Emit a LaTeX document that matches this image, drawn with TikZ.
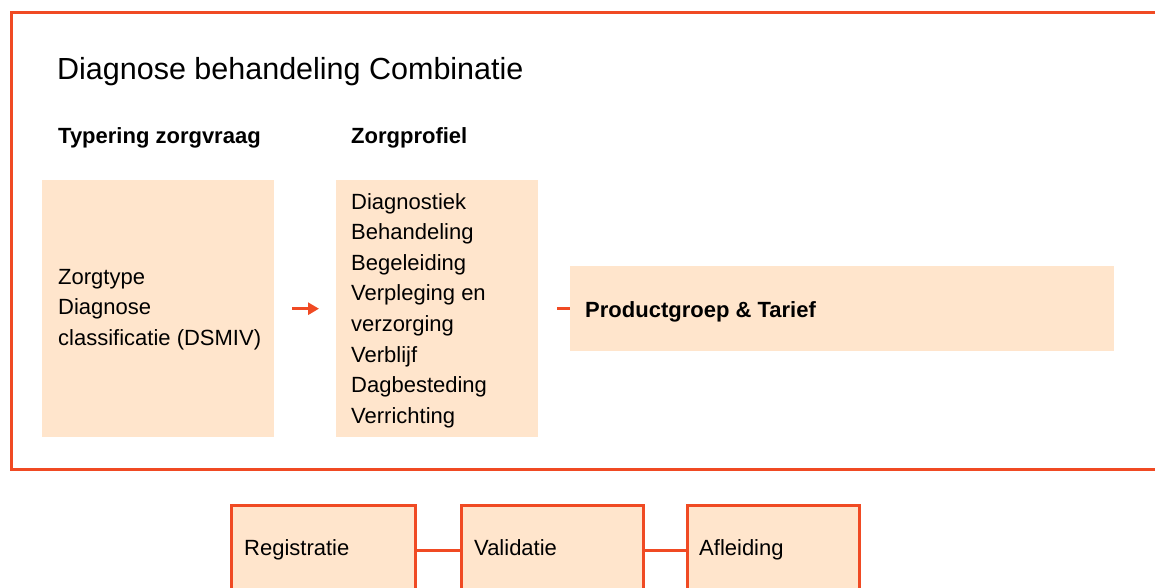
\documentclass[tikz,border=0pt]{standalone}
\usepackage{fontspec}
\setmainfont{Liberation Sans}
\usetikzlibrary{arrows.meta}
\definecolor{lineor}{HTML}{F04A23}
\definecolor{boxfill}{HTML}{FFE5CC}
\begin{document}
\begin{tikzpicture}[x=1pt,y=-1pt,
  panel/.style={fill=boxfill, draw=none, inner sep=0, anchor=north west},
  stepbox/.style={fill=boxfill, draw=lineor, line width=3pt, inner sep=0, anchor=north west},
  frameline/.style={draw=lineor, line width=3pt},
  conn/.style={draw=lineor, line width=3pt},
  txt/.style={inner sep=0, text=black, font=\fontsize{22}{30.6}\selectfont},
  btxt/.style={inner sep=0, text=black, font=\fontsize{22}{26}\selectfont\bfseries},
  ttxt/.style={inner sep=0, text=black, font=\fontsize{30.5}{36}\selectfont}]
\useasboundingbox (0,0) rectangle (1155,587);
\clip (0,0) rectangle (1155,587);
\fill[white] (0,0) rectangle (1155,587);
% frame
\draw[frameline] (1170,12.5) -- (11.5,12.5) -- (11.5,469.5) -- (1170,469.5);
% titles
\node[ttxt, anchor=base west] (title) at (57,79) {Diagnose behandeling Combinatie};
\node[btxt, anchor=base west] (h1) at (58,143) {Typering zorgvraag};
\node[btxt, anchor=base west] (h2) at (351,143) {Zorgprofiel};
% panels
\node[panel, minimum width=232pt, minimum height=257pt] (L) at (42,180) {};
\node[panel, minimum width=202pt, minimum height=257pt] (M) at (336,180) {};
\node[panel, minimum width=544pt, minimum height=85pt] (P) at (569.5,266) {};
\node[txt, anchor=north west, align=left] (Lt) at (58,269) {Zorgtype\\Diagnose\\classificatie (DSMIV)};
\node[txt, anchor=north west, align=left] (Mt) at (351,193) {Diagnostiek\\Behandeling\\Begeleiding\\Verpleging en\\verzorging\\Verblijf\\Dagbesteding\\Verrichting};
\node[btxt, anchor=base west] (Pt) at (585,317) {Productgroep \& Tarief};
% connectors
\draw[conn, shorten <=18pt, shorten >=17pt, -{Triangle[length=11pt,width=12pt]}] (L) -- (M);
\draw[conn, shorten <=19pt] (M) -- (P);
% bottom process
\node[stepbox, minimum width=184.3pt, minimum height=90.5pt] (R) at (230,503.5) {};
\node[stepbox, minimum width=182pt, minimum height=90.5pt] (V) at (459.7,503.5) {};
\node[stepbox, minimum width=172.3pt, minimum height=90.5pt] (A) at (686,503.5) {};
\draw[conn] (R.east) -- (V.west);
\draw[conn] (V.east) -- (A.west);
\node[txt, anchor=base west] (Rt) at (244,555) {Registratie};
\node[txt, anchor=base west] (Vt) at (474,555) {Validatie};
\node[txt, anchor=base west] (At) at (699,555) {Afleiding};
\end{tikzpicture}
\end{document}
